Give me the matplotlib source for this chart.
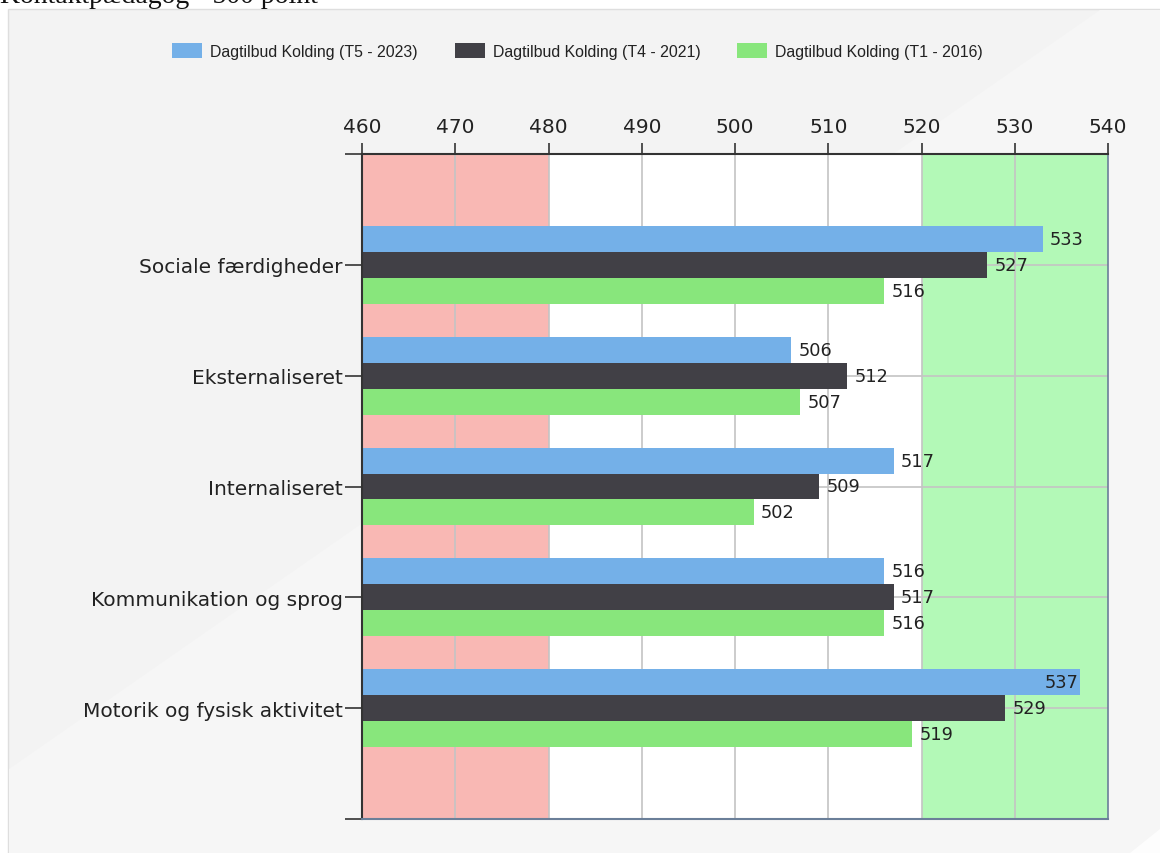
import matplotlib
matplotlib.use("Agg")
import matplotlib.pyplot as plt
from matplotlib.patches import Rectangle, Polygon
import numpy as np

categories = ["Sociale færdigheder", "Eksternaliseret", "Internaliseret",
              "Kommunikation og sprog", "Motorik og fysisk aktivitet"]
series_names = ["Dagtilbud Kolding (T5 - 2023)", "Dagtilbud Kolding (T4 - 2021)",
                "Dagtilbud Kolding (T1 - 2016)"]
t5_2023 = [533, 506, 517, 516, 537]
t4_2021 = [527, 512, 509, 517, 529]
t1_2016 = [516, 507, 502, 516, 519]
x_ticks = [460, 470, 480, 490, 500, 510, 520, 530, 540]
low_band = (460, 480)
high_band = (520, 540)
title_text = "Kontaktpædagog - 500 point"

colors = ["#74b0e8", "#414046", "#88e67c"]
W, H = 1160, 854
fig = plt.figure(figsize=(W / 100, H / 100), dpi=100)
fig.patch.set_facecolor("white")

def fx(px):
    return px / W

def fy(py):
    return 1 - py / H

# panel background
fig.patches.append(Rectangle((fx(8), 0), 1 - fx(8), fy(10), transform=fig.transFigure,
                             facecolor="#f3f3f3", edgecolor="#dedede", lw=1, zorder=-10))
fig.patches.append(Polygon([(fx(1100), fy(11)), (1, fy(11)), (1, 0), (fx(9), 0), (fx(9), fy(770))],
                           closed=True, transform=fig.transFigure,
                           facecolor="#f6f6f6", edgecolor="none", zorder=-9))
fig.patches.append(Polygon([(fx(1130), 0), (1, fy(830)), (1, 0)], closed=True,
                           transform=fig.transFigure, facecolor="#fdfdfd",
                           edgecolor="none", zorder=-8))

# cut-off title at very top
fig.text(fx(0), fy(3), title_text, family="Liberation Serif", fontsize=20,
         ha="left", va="baseline", color="#111111")

# legend (manual)
leg_x = [172, 455, 737]
for xp, name, c in zip(leg_x, series_names, colors):
    fig.patches.append(Rectangle((fx(xp), fy(59)), fx(30), 15 / H, transform=fig.transFigure,
                                 facecolor=c, edgecolor="none", zorder=1))
    fig.text(fx(xp + 38), fy(52), name, fontsize=11.4, family="Liberation Sans",
             ha="left", va="center", color="#222222")

ax = fig.add_axes([fx(362), fy(820), fx(1108) - fx(362), fy(155) - fy(820)])
ax.set_facecolor("white")
ax.set_xlim(x_ticks[0], x_ticks[-1])
ax.set_ylim(6, 0)

ax.axvspan(*low_band, color="#f9b8b4", zorder=0, lw=0)
ax.axvspan(*high_band, color="#b3f9b7", zorder=0, lw=0)

for xv in x_ticks[1:-1]:
    ax.axvline(xv, color="#c4c4c4", lw=1.2, zorder=0.5)
ypos = np.arange(1, len(categories) + 1)
for yv in ypos:
    ax.axhline(yv, color="#c4c4c4", lw=1.2, zorder=0.5)

bh = 0.234
offsets = [-bh, 0, bh]
label_fs = 12.8
for vals, off, c in zip([t5_2023, t4_2021, t1_2016], offsets, colors):
    ax.barh(ypos + off, np.array(vals) - x_ticks[0], left=x_ticks[0], height=bh,
            color=c, edgecolor="none", zorder=2)
    for yv, v in zip(ypos, vals):
        if v + 3.5 > x_ticks[-1]:
            ax.text(v - 0.2, yv + off, str(v), ha="right", va="center",
                    fontsize=label_fs, color="#222222", zorder=3,
                    family="DejaVu Sans")
        else:
            ax.text(v + 0.8, yv + off, str(v), ha="left", va="center",
                    fontsize=label_fs, color="#222222", zorder=3,
                    family="DejaVu Sans")

ax.xaxis.tick_top()
ax.set_xticks(x_ticks)
ax.set_xticklabels([str(t) for t in x_ticks], fontsize=14.5, family="DejaVu Sans",
                   color="#222222")
ax.tick_params(axis="x", length=8, width=1.2, color="#333333", pad=5)

ax.set_yticks([0] + list(ypos) + [6])
ax.set_yticklabels([""] + categories + [""], fontsize=14.5, family="DejaVu Sans",
                   color="#222222")
ax.tick_params(axis="y", length=12, width=1.2, color="#333333", pad=2)

for s in ["left", "top"]:
    ax.spines[s].set_color("#333333")
    ax.spines[s].set_linewidth(1.5)
ax.spines["right"].set_color("#6b7f99")
ax.spines["bottom"].set_color("#6b7f99")
ax.spines["right"].set_linewidth(1.2)
ax.spines["bottom"].set_linewidth(1.5)

fig.savefig("out.png", dpi=100, facecolor=fig.get_facecolor())
